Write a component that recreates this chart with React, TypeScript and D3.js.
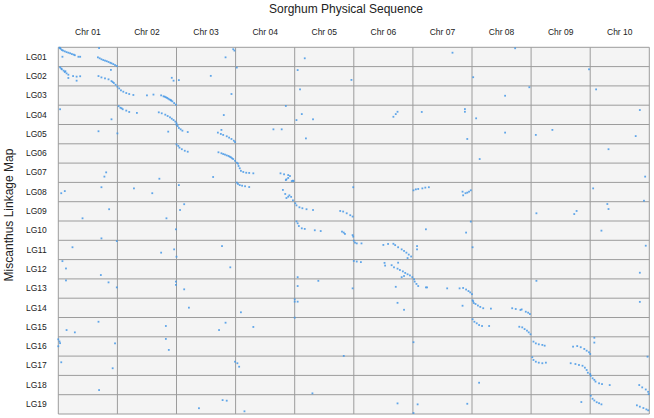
import React, { useRef, useEffect } from 'react';
import * as d3 from 'd3';

const chromosomes = ['Chr 01', 'Chr 02', 'Chr 03', 'Chr 04', 'Chr 05', 'Chr 06', 'Chr 07', 'Chr 08', 'Chr 09', 'Chr 10'];
const linkageGroups = ['LG01', 'LG02', 'LG03', 'LG04', 'LG05', 'LG06', 'LG07', 'LG08', 'LG09', 'LG10',
  'LG11', 'LG12', 'LG13', 'LG14', 'LG15', 'LG16', 'LG17', 'LG18', 'LG19'];

// each hit: [sorghum position in chromosome units (0-10), position along the linkage group (0-1)]
// one list per linkage group, same order as linkageGroups
const hitsByLG: number[][][] = [
  // LG01
  [[0.02,0.02],[0.03,0.04],[0.04,0.08],[0.06,0.14],[0.08,0.17],[0.11,0.21],[0.14,0.25],[0.17,0.28],[0.20,0.31],[0.23,0.35],[0.26,0.38],[0.28,0.41],[0.34,0.49],[0.37,0.49],[0.07,0.49],
   [0.67,0.52],[0.70,0.57],[0.73,0.62],[0.76,0.66],[0.79,0.69],[0.82,0.72],[0.85,0.76],[0.88,0.80],[0.90,0.83],[0.93,0.87],[0.96,0.92],[0.99,0.97],
   [0.69,0.04],[2.96,0.10],[2.98,0.17],[2.83,0.52],[4.17,0.57],[6.67,0.28],[7.73,0.05]],
  // LG02
  [[0.03,0.04],[0.05,0.10],[0.06,0.14],[0.09,0.21],[0.11,0.28],[0.12,0.24],[0.14,0.35],[0.17,0.42],[0.25,0.49],[0.31,0.52],[0.37,0.50],[0.17,0.59],[0.31,0.73],
   [0.68,0.49],[0.73,0.56],[0.79,0.61],[0.85,0.66],[0.90,0.75],[0.92,0.80],[0.94,0.85],[0.97,0.94],[0.89,0.17],
   [1.92,0.58],[1.95,0.73],[2.04,0.70],[2.58,0.48],[3.02,0.05],[4.05,0.18],[4.96,0.69],[7.02,0.55],[8.98,0.14]],
  // LG03
  [[1.00,0.04],[1.03,0.13],[1.06,0.23],[1.10,0.30],[1.15,0.37],[1.20,0.42],[1.27,0.47],[1.50,0.49],[1.61,0.45],
   [1.74,0.49],[1.78,0.54],[1.80,0.56],[1.82,0.59],[1.84,0.62],[1.86,0.66],[1.88,0.70],[1.90,0.73],[1.91,0.76],[1.93,0.80],[1.96,0.89],[1.99,0.97],
   [2.93,0.42],[4.09,0.18],[7.56,0.51],[7.97,0.07],[9.10,0.18]],
  // LG04
  [[0.03,0.21],[1.02,0.05],[1.05,0.13],[1.07,0.16],[1.09,0.21],[1.15,0.28],[1.20,0.35],[1.33,0.40],[0.90,0.73],
   [1.70,0.37],[1.75,0.42],[1.81,0.49],[1.85,0.56],[1.89,0.63],[1.92,0.70],[1.95,0.77],[1.98,0.85],[2.00,0.94],
   [2.80,0.51],[3.85,0.04],[4.12,0.46],[4.03,0.77],[4.31,0.73],[5.74,0.34],[5.71,0.46],[5.67,0.60],[6.15,0.35],[6.88,0.20],[6.88,0.34],[7.07,0.68],[9.84,0.25]],
  // LG05
  [[0.68,0.35],[1.00,0.46],[2.00,0.01],[2.02,0.08],[2.04,0.18],[2.07,0.25],[2.10,0.32],[2.19,0.39],[1.86,0.37],
   [2.70,0.42],[2.75,0.49],[2.79,0.54],[2.85,0.61],[2.89,0.68],[2.93,0.75],[2.97,0.84],[2.99,0.91],[2.76,0.28],
   [3.64,0.25],[3.78,0.25],[4.19,0.72],[7.56,0.42],[8.08,0.54],[8.36,0.28],[9.77,0.60],[6.92,0.75]],
  // LG06
  [[2.00,0.03],[2.03,0.11],[2.05,0.20],[2.09,0.28],[2.14,0.36],[2.19,0.41],
   [2.71,0.44],[2.76,0.49],[2.79,0.53],[2.82,0.56],[2.85,0.60],[2.88,0.63],[2.90,0.67],[2.92,0.70],[2.94,0.75],[2.96,0.79],[2.99,0.88],[3.02,0.98],
   [7.13,0.79],[9.31,0.28]],
  // LG07
  [[3.04,0.03],[3.05,0.15],[3.07,0.27],[3.09,0.40],[3.13,0.46],[3.18,0.50],[3.23,0.51],[3.30,0.53],
   [3.76,0.53],[3.82,0.58],[3.89,0.62],[3.86,0.84],[3.89,0.77],[3.92,0.67],[3.95,0.93],[3.98,0.93],[3.85,0.88],[3.97,0.91],
   [0.81,0.48],[0.78,0.70],[1.71,0.81],[2.62,0.72],[9.93,0.70]],
  // LG08
  [[3.02,0.01],[3.04,0.08],[3.07,0.14],[3.11,0.17],[3.16,0.20],[3.23,0.24],
   [3.80,0.39],[3.84,0.60],[3.86,0.81],[3.89,0.74],[3.91,0.67],[3.94,0.75],[3.97,0.93],
   [0.05,0.56],[0.11,0.45],[0.73,0.25],[1.28,0.31],[1.59,0.56],[2.04,0.14],[4.99,0.25],
   [6.01,0.41],[6.05,0.36],[6.09,0.34],[6.16,0.31],[6.21,0.27],[6.27,0.25],
   [6.84,0.48],[6.89,0.56],[6.92,0.53],[6.95,0.48],[6.98,0.41],[6.85,0.67],
   [9.05,0.31],[9.91,0.95]],
  // LG09
  [[4.01,0.08],[4.03,0.19],[4.08,0.29],[4.13,0.34],[4.20,0.39],[4.31,0.43],
   [4.77,0.48],[4.82,0.51],[4.88,0.60],[4.94,0.70],[4.98,0.77],
   [0.86,0.39],[0.41,0.86],[1.83,0.86],[2.06,0.43],[2.13,0.13],[8.09,0.60],[8.73,0.64],[8.77,0.48],[9.29,0.12],[9.31,0.38]],
  // LG10
  [[4.03,0.02],[4.05,0.12],[4.07,0.26],[4.12,0.38],[4.17,0.41],[4.34,0.48],[4.44,0.52],
   [4.80,0.55],[4.83,0.60],[4.85,0.67],[4.98,0.73],[4.99,0.81],
   [6.22,0.43],[6.90,0.60],[6.98,0.03],[9.19,0.50],[0.73,0.90],[1.99,0.43]],
  // LG11
  [[0.99,0.04],[5.00,0.02],[5.02,0.12],[5.05,0.16],[5.13,0.16],
   [5.50,0.24],[5.58,0.19],[5.67,0.18],[5.70,0.25],[5.75,0.36],[5.81,0.47],[5.85,0.55],[5.89,0.64],[5.93,0.74],[5.97,0.84],[5.91,0.92],[6.07,0.30],[6.07,0.47],
   [7.01,0.36],[0.24,0.36],[1.74,0.64],[1.96,0.47],[2.00,0.85],[2.77,0.30],[9.94,0.28]],
  // LG12
  [[5.00,0.07],[5.05,0.10],[5.12,0.13],
   [5.52,0.17],[5.53,0.31],[5.64,0.29],[5.68,0.40],[5.74,0.47],[5.78,0.54],[5.83,0.61],[5.87,0.69],[5.91,0.76],[5.95,0.82],[5.99,0.91],[5.81,0.91],[5.85,0.85],[5.75,0.16],
   [0.07,0.08],[0.13,0.46],[0.72,0.80],[2.91,0.40],[9.84,0.68],[4.05,0.91]],
  // LG13
  [[6.02,0.02],[6.03,0.14],[6.06,0.26],[6.09,0.37],[6.22,0.44],[6.24,0.44],[6.58,0.49],[6.79,0.49],
   [6.85,0.47],[6.90,0.55],[6.94,0.63],[6.97,0.70],[7.00,0.79],
   [4.98,0.49],[0.13,0.08],[0.85,0.18],[0.99,0.44],[1.99,0.14],[1.99,0.31],[2.13,0.54],[4.05,0.37],[4.40,0.10],[5.71,0.41],[8.09,0.10]],
  // LG14
  [[7.01,0.11],[7.02,0.16],[7.03,0.25],[7.06,0.30],[7.10,0.38],[7.14,0.45],[7.19,0.52],[7.32,0.54],
   [7.68,0.52],[7.74,0.56],[7.82,0.61],[7.84,0.58],[7.91,0.70],[7.95,0.75],[7.98,0.82],
   [6.84,0.39],[2.21,0.49],[3.09,0.73],[4.00,0.06],[4.05,0.18],[4.00,0.18],[5.74,0.24],[5.85,0.60],[9.84,0.19]],
  // LG15
  [[7.01,0.09],[7.04,0.22],[7.08,0.30],[7.12,0.39],[7.17,0.44],[7.29,0.44],
   [7.80,0.48],[7.85,0.51],[7.89,0.60],[7.93,0.68],[7.96,0.77],[7.99,0.87],
   [0.14,0.65],[0.28,0.77],[0.68,0.22],[1.82,0.44],[2.72,0.65],[2.83,0.27],[3.30,0.49],[4.00,0.01]],
  // LG16
  [[8.04,0.25],[8.08,0.34],[8.13,0.39],[8.19,0.42],[8.23,0.46],
   [8.71,0.51],[8.78,0.48],[8.84,0.54],[8.90,0.63],[8.94,0.72],[8.98,0.80],[9.00,0.89],
   [9.07,0.05],[9.07,0.30],[0.00,0.13],[0.02,0.24],[0.03,0.33],[0.00,0.49],[0.96,0.34],[1.82,0.11],[1.87,0.68],[6.01,0.28],[4.83,0.99]],
  // LG17
  [[8.02,0.06],[8.04,0.20],[8.08,0.29],[8.13,0.34],[8.19,0.37],[8.25,0.34],
   [8.67,0.37],[8.75,0.41],[8.81,0.46],[8.87,0.50],[8.91,0.60],[8.94,0.72],[8.96,0.86],[9.00,0.93],
   [0.05,0.32],[0.92,0.63],[2.99,0.29],[3.03,0.37],[3.06,0.55],[9.97,0.03]],
  // LG18
  [[9.01,0.02],[9.04,0.15],[9.07,0.23],[9.09,0.32],[9.15,0.41],[9.20,0.45],[9.33,0.50],
   [9.83,0.50],[9.88,0.62],[9.94,0.73],[9.98,0.85],[9.99,0.97],
   [7.12,0.38],[0.69,0.76],[4.30,0.93]],
  // LG19
  [[9.01,0.05],[9.04,0.21],[9.07,0.30],[9.11,0.39],[9.15,0.44],[9.19,0.50],
   [9.79,0.55],[9.84,0.62],[9.90,0.69],[9.95,0.76],[9.98,0.81],
   [8.85,0.38],[6.92,0.47],[5.74,0.45],[6.08,0.50],[6.01,0.95],[2.38,0.70],[2.78,0.28],[2.85,0.31],[3.15,0.86]],
];

const W = 654, H = 418;
const margin = { top: 47.3, right: 4.7, bottom: 4, left: 58.3 };
const font = '"Liberation Sans", Arial, sans-serif';

const App = () => {
  const ref = useRef<SVGSVGElement>(null);

  useEffect(() => {
    const svg = d3.select(ref.current);
    svg.selectAll('*').remove();

    const x0 = margin.left, x1 = W - margin.right;
    const y0 = margin.top, y1 = H - margin.bottom;

    const xChr = d3.scaleBand().domain(chromosomes).range([x0, x1]);
    const yLG = d3.scaleBand().domain(linkageGroups).range([y0, y1]);
    const xPos = d3.scaleLinear().domain([0, chromosomes.length]).range([x0, x1]);

    // cell backgrounds
    svg.append('rect')
      .attr('x', x0).attr('y', y0)
      .attr('width', x1 - x0).attr('height', y1 - y0)
      .attr('fill', '#f4f4f4');

    // grid lines
    const grid = svg.append('g').attr('stroke', '#9c9c9c').attr('stroke-width', 1);
    d3.range(chromosomes.length + 1).forEach(i => {
      grid.append('line')
        .attr('x1', xPos(i)).attr('x2', xPos(i))
        .attr('y1', y0).attr('y2', y1);
    });
    d3.range(linkageGroups.length + 1).forEach(i => {
      const y = y0 + i * yLG.step();
      grid.append('line')
        .attr('x1', x0).attr('x2', x1)
        .attr('y1', y).attr('y2', y);
    });

    // dots
    const dots = svg.append('g').attr('fill', '#4598e6');
    hitsByLG.forEach((hits, i) => {
      const lg = linkageGroups[i];
      dots.selectAll(null)
        .data(hits)
        .enter()
        .append('rect')
        .attr('x', d => xPos(d[0]) - 0.9)
        .attr('y', d => (yLG(lg) as number) + d[1] * yLG.bandwidth() - 0.9)
        .attr('width', 1.8)
        .attr('height', 1.8)
        .attr('opacity', 0.85);
    });

    // chromosome labels (top)
    const top = svg.append('g')
      .attr('transform', `translate(0, ${y0 - 9.5})`)
      .call(d3.axisTop(xChr).tickSize(0));
    top.select('.domain').remove();
    top.selectAll('text')
      .attr('font-family', font).attr('font-size', 8.5).attr('fill', '#222');

    // linkage group labels (left)
    const left = svg.append('g')
      .attr('transform', `translate(${x0 - 8.6}, 0)`)
      .call(d3.axisLeft(yLG).tickSize(0));
    left.select('.domain').remove();
    left.selectAll('text')
      .attr('font-family', font).attr('font-size', 8.5).attr('fill', '#222');

    svg.append('text')
      .attr('x', 346).attr('y', 13)
      .attr('text-anchor', 'middle')
      .attr('font-family', font).attr('font-size', 12).attr('fill', '#222')
      .text('Sorghum Physical Sequence');

    svg.append('text')
      .attr('transform', 'translate(13, 215) rotate(-90)')
      .attr('text-anchor', 'middle')
      .attr('font-family', font).attr('font-size', 12).attr('fill', '#222')
      .text('Miscanthus Linkage Map');
  }, []);

  return (
    <svg ref={ref} width={W} height={H}
      style={{ position: 'absolute', left: 0, top: 0, background: '#fff' }} />
  );
};

export default App;
